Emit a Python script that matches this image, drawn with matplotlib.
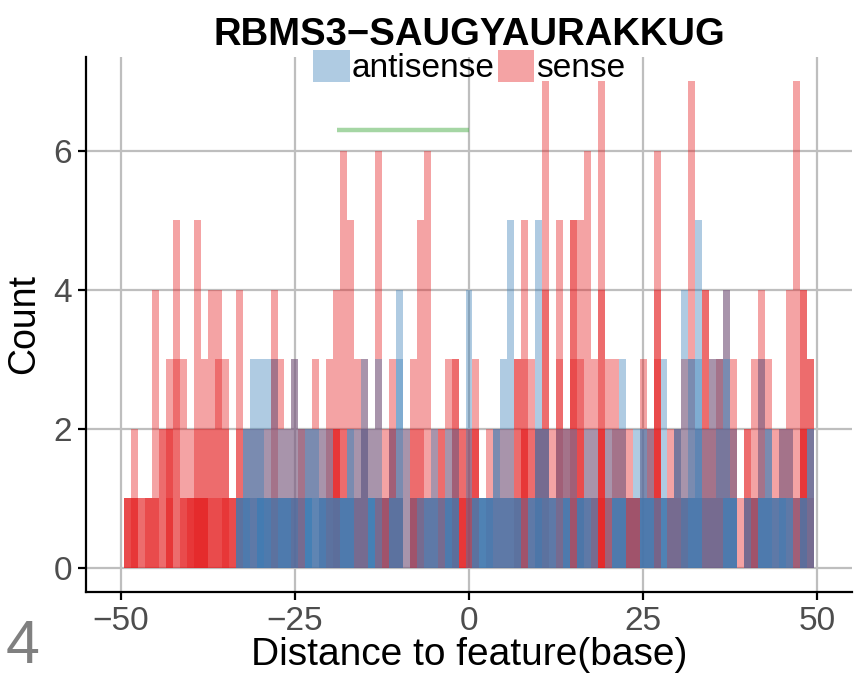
import matplotlib
matplotlib.use("Agg")
import matplotlib.pyplot as plt
from matplotlib.patches import Patch

plt.rcParams['font.family'] = ['Liberation Sans', 'DejaVu Sans']

title = "RBMS3\u2212SAUGYAURAKKUG"
strands = ["antisense", "sense"]
strand_colors = {"antisense": "#377EB8", "sense": "#E41A1C"}

# bar heights per distance (one bar per entry, drawn overlapping)
sense_bars = {
    -49: [1, 1, 1], -48: [2, 1, 1, 1], -47: [1, 1], -46: [1, 1, 1],
    -45: [4, 1, 1], -44: [2, 2], -43: [3, 2, 2, 1], -42: [5, 3],
    -41: [3, 1, 1], -40: [2, 1, 1, 1], -39: [5, 2, 1, 1, 1], -38: [3, 2, 1, 1, 1],
    -37: [4, 2, 1], -36: [4, 3, 1], -35: [3, 2, 1, 1], -34: [1, 1, 1],
    -33: [4, 2, 1], -32: [2, 1], -31: [2, 1], -30: [2, 1],
    -29: [2, 1], -28: [4, 3, 1], -27: [3, 1], -26: [2, 1],
    -25: [3, 1, 1], -24: [2, 2, 1], -23: [2], -22: [3],
    -21: [2, 1], -20: [3, 2, 1], -19: [4, 2, 2, 2], -18: [6, 2],
    -17: [5, 1], -16: [3, 1, 1], -15: [3, 2, 2], -14: [2],
    -13: [6, 1, 1], -12: [2, 1, 1, 1], -11: [3, 2, 2], -10: [2, 1, 1],
    -9: [2], -8: [3, 2, 1, 1], -7: [5, 2, 1], -6: [6, 1],
    -5: [2, 1], -4: [2, 2, 1], -3: [3, 1], -2: [3, 3, 2, 1],
    -1: [2, 2, 1, 1], 0: [2, 2, 1, 1], 1: [3, 2, 2], 2: [1],
    3: [2, 1], 4: [2, 1], 5: [2, 1], 6: [2, 1],
    7: [3, 3, 1], 8: [5, 3, 2, 2], 9: [3, 2], 10: [2, 2, 2],
    11: [7, 4, 2], 12: [2, 1], 13: [5, 3, 2], 14: [2, 2],
    15: [5, 5, 3, 1], 16: [5, 3, 2], 17: [6, 1], 18: [3, 1, 1],
    19: [7, 4, 2, 2, 1], 20: [3, 1, 1], 21: [3, 2], 22: [2, 2],
    23: [2, 1, 1, 1], 24: [1, 1, 1, 1], 25: [3, 1], 26: [2, 2],
    27: [6, 4, 3, 2], 28: [1], 29: [2, 1, 1], 30: [2, 2, 1],
    31: [3, 1, 1], 32: [7, 1], 33: [2, 1], 34: [4, 4, 1],
    35: [3, 2, 1], 36: [3, 3, 1], 37: [4, 2], 38: [3, 2],
    39: [1], 40: [2, 2, 1], 41: [3, 1, 1, 1], 42: [4, 3],
    43: [3, 1], 44: [2, 1], 45: [2, 2], 46: [4, 2],
    47: [7, 1, 1], 48: [4, 4, 2, 2], 49: [3, 3, 1],
}

antisense_bars = {
    -33: [1, 1, 1], -32: [2, 2, 1, 1], -31: [3, 2, 1], -30: [3, 2, 1, 1, 1],
    -29: [3, 1, 1, 1], -28: [3, 1, 1], -27: [2, 1, 1, 1], -26: [2, 1, 1, 1],
    -25: [3, 1, 1], -24: [2, 1], -23: [2, 2, 1, 1, 1], -22: [2, 2, 1],
    -21: [2, 1, 1, 1], -20: [2, 1, 1], -19: [1, 1, 1], -18: [1, 1, 1, 1],
    -17: [2, 2, 1, 1], -16: [2, 1], -15: [3, 2], -14: [2, 1, 1, 1, 1],
    -13: [3, 1], -12: [1], -11: [2, 1, 1], -10: [4, 3, 1],
    -9: [2], -8: [1], -7: [1, 1], -6: [1, 1, 1],
    -5: [2, 1, 1], -4: [1, 1], -3: [2, 1, 1, 1], -2: [2, 1, 1],
    0: [4], 1: [1, 1, 1], 2: [1, 1, 1, 1], 3: [1, 1, 1, 1],
    4: [2, 2, 1], 5: [3, 1, 1], 6: [5, 1, 1], 7: [1, 1, 1],
    8: [1], 9: [1, 1, 1], 10: [5, 2, 1, 1], 11: [2, 2, 1],
    12: [1, 1, 1], 13: [2, 1], 14: [2, 1, 1, 1], 15: [2],
    16: [1, 1, 1, 1], 17: [2, 1, 1], 18: [2, 1], 20: [2],
    21: [2, 1, 1, 1], 22: [3, 1, 1, 1], 23: [1], 24: [2],
    25: [2, 2, 1, 1], 26: [2, 1, 1, 1], 27: [1, 1], 28: [3, 1, 1, 1],
    29: [1, 1], 30: [2, 2], 31: [4, 1, 1], 32: [3, 3, 1, 1],
    33: [5, 3, 2, 1], 34: [2, 1], 35: [3, 1], 36: [3, 2],
    37: [4, 3, 1, 1], 38: [2, 1, 1, 1], 40: [1, 1], 41: [1],
    42: [3, 1, 1, 1], 43: [2, 2, 1, 1], 44: [1, 1, 1], 45: [2, 1, 1, 1],
    46: [2, 1, 1], 47: [1], 48: [1, 1, 1], 49: [2, 2],
}

# feature span
feature_start, feature_end, feature_y = -19, 0, 6.3

xticks = [-50, -25, 0, 25, 50]
yticks = [0, 2, 4, 6]


def flatten(bars):
    xs, hs = [], []
    for pos, heights in bars.items():
        for h in heights:
            xs.append(pos)
            hs.append(h)
    return xs, hs


fig = plt.figure(figsize=(8.64, 6.76), dpi=100)
ax = fig.add_axes([86 / 864, 1 - 592 / 676, 766 / 864, 535 / 676])

for name, bars in [("sense", sense_bars), ("antisense", antisense_bars)]:
    xs, hs = flatten(bars)
    ax.bar(xs, hs, width=1.0, color=strand_colors[name], alpha=0.4,
           linewidth=0, antialiased=False, zorder=2)

ax.plot([feature_start, feature_end], [feature_y, feature_y],
        color="#4DAF4A", alpha=0.5, linewidth=3.2, solid_capstyle="butt", zorder=3)

ax.set_xlim(-55, 55)
ax.set_ylim(-0.35, 7.35)
ax.set_xticks(xticks)
ax.set_yticks(yticks)
ax.grid(True, color="#bebebe", linewidth=1.6)
ax.set_axisbelow(True)
for s in ["top", "right"]:
    ax.spines[s].set_visible(False)
for s in ["left", "bottom"]:
    ax.spines[s].set_linewidth(1.6)
    ax.spines[s].set_color("black")
ax.tick_params(axis="both", length=6, width=1.6, color="black",
               labelcolor="#4d4d4d", labelsize=24, pad=4)

ax.set_xlabel("Distance to feature(base)", fontsize=28, labelpad=0)
ax.set_ylabel("Count", fontsize=27, labelpad=8)

handles = [Patch(facecolor=strand_colors[s], alpha=0.4, linewidth=0) for s in strands]
ax.legend(handles, strands, loc="center", bbox_to_anchor=(0.5, 0.981), ncol=2,
          frameon=False, fontsize=24, handlelength=1.1, handleheight=1.1,
          handletextpad=0.05, columnspacing=0.1, borderaxespad=0, borderpad=0)

fig.text(469 / 864, 1 - 45 / 676, title, ha="center", va="baseline",
         fontsize=27.5, fontweight="bold")
fig.text(6 / 864, 1 - 663 / 676, "4", ha="left", va="baseline",
         fontsize=44, color="#808080")

fig.savefig("out.png", dpi=100)
